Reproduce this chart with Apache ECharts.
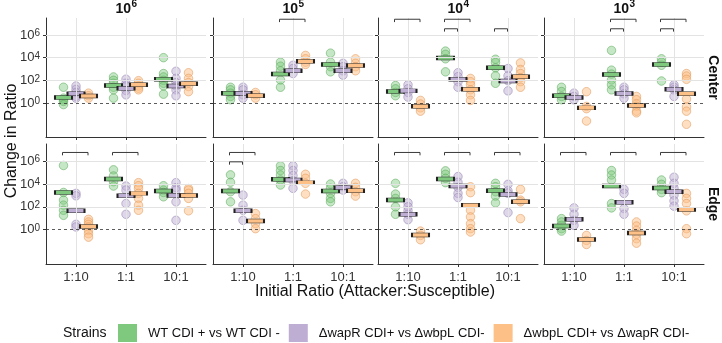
<!DOCTYPE html>
<html>
<head>
<meta charset="utf-8">
<script src="https://cdn.jsdelivr.net/npm/echarts@6.0.0/dist/echarts.min.js"></script>
<style>
html, body { margin: 0; padding: 0; background: #fff; }
#chart { width: 722px; height: 343px; }
</style>
</head>
<body>
<div id="chart"></div>
<script>
var categories = ['1:10', '1:1', '10:1'];
var densityExp = ['6', '5', '4', '3']; // facet columns: 10^6 ... 10^3
var locations = ['Center', 'Edge'];
var strains = ['WT CDI + vs WT CDI -', '\u0394wapR CDI+ vs \u0394wbpL CDI-', '\u0394wbpL CDI+ vs \u0394wapR CDI-'];
var strainColors = ['#7fc97f', '#beaed4', '#fdc086'];
var yTicks = [0, 2, 4, 6];

// values are log10(change in ratio); per strain [WT, wapR, wbpL], each [1:10, 1:1, 10:1]
var centerE6Pts = [
  [[1.39, 0.43, 0.29, 0.14, -0.14], [2.3, 2.0, 1.74, 1.39, 1.16, 0.43], [4.0, 2.6, 2.3, 2.0, 1.74, 1.5, 0.78]],
  [[1.5, 1.2, 0.93, 0.58, 0.43], [2.1, 1.74, 1.5, 1.1, 0.72], [2.8, 2.17, 1.8, 1.5, 1.16, 0.64]],
  [[0.87, 0.64, 0.43], [1.97, 1.74, 1.5, 1.3, 1.16], [2.67, 2.17, 1.8, 1.45, 1.0]]
];
var centerE6Bars = [[0.49, 1.54, 2.1], [0.81, 1.3, 1.5], [0.61, 1.6, 1.7]];

var centerE5Pts = [
  [[1.39, 1.16, 0.87, 0.58, 0.29], [3.6, 3.25, 2.84, 2.03, 1.39], [4.4, 3.6, 3.2, 2.75]],
  [[1.39, 1.16, 0.72, 0.43], [3.33, 3.04, 2.6], [3.5, 3.2, 2.84, 2.46]],
  [[0.93, 0.72, 0.43], [4.2, 3.9, 3.6, 3.4], [3.9, 3.5, 3.2, 2.84]]
];
var centerE5Bars = [[0.87, 2.55, 3.4], [0.87, 2.84, 2.84], [0.64, 3.68, 3.3]];

var centerE4Pts = [
  [[1.54, 1.25, 0.93, 0.64], [4.58, 4.29, 3.9, 2.75], [3.86, 3.57, 3.1, 2.4, 1.74]],
  [[1.6, 1.25, 0.93, 0.52], [2.67, 2.32, 1.88, 1.39], [3.04, 2.4, 1.97, 1.07]],
  [[0.23, -0.09, -0.43, -0.72], [2.17, 1.88, 1.6, 1.16, 0.72, 0.23], [3.54, 2.96, 2.6, 2.23, 1.88, 1.39]]
];
var centerE4Bars = [[1.01, 3.97, 3.1], [1.07, 2.09, 1.94], [-0.29, 1.22, 2.32]];

var centerE3Pts = [
  [[1.39, 1.01, 0.58, 0.29], [4.64, 2.9, 2.55, 2.03, 1.6, 1.16], [3.9, 3.6, 3.33, 1.94]],
  [[0.87, 0.58, 0.29], [1.39, 1.16, 0.81, 0.43], [1.6, 1.39, 1.16, 0.58]],
  [[1.0, -0.3, -0.5, -1.59], [0.58, 0.29, -0.06, -0.29, -0.72, -0.87], [2.6, 2.38, 2.09, 0.35, -0.35, -0.72, -1.88]]
];
var centerE3Bars = [[0.64, 2.52, 3.39], [0.49, 0.84, 1.22], [-0.43, -0.23, 0.81]];

var edgeE6Pts = [
  [[5.62, 3.26, 2.59, 2.15, 1.7, 1.26], [5.24, 4.7, 4.2, 3.82], [3.85, 3.47, 3.26, 2.88]],
  [[3.18, 2.97, 0.47, 0.24], [3.82, 3.47, 2.29, 1.35], [4.12, 3.68, 3.47, 2.44, 0.82]],
  [[0.91, 0.68, 0.47, 0.24, -0.06, -0.35, -0.65], [4.12, 3.85, 3.6, 3.18, 2.74, 2.15, 1.7], [3.6, 3.47, 3.18, 2.74, 1.65]]
];
var edgeE6Bars = [[3.26, 4.44, 3.38], [1.65, 2.97, 3.0], [0.29, 3.18, 3.0]];

var edgeE5Pts = [
  [[4.8, 4.15, 3.32, 2.44], [5.59, 5.18, 4.79, 4.35, 3.91], [4.0, 3.62, 3.18, 2.74, 2.44]],
  [[3.03, 2.15, 1.7, 0.82], [5.59, 5.18, 4.74, 4.29, 3.62], [4.06, 3.76, 3.47]],
  [[1.41, 0.97, 0.53, 0.09], [4.85, 4.5, 4.06, 3.12], [4.06, 3.71, 3.32, 2.94]]
];
var edgeE5Bars = [[3.38, 4.41, 3.38], [1.65, 4.35, 3.68], [0.76, 4.12, 3.41]];

var edgeE4Pts = [
  [[4.06, 3.12, 2.74, 2.0, 1.35], [5.15, 4.85, 4.5, 4.12], [4.06, 3.76, 3.32, 2.94, 2.35]],
  [[2.35, 2.0, 1.65, 1.35, 0.88], [4.65, 4.15, 3.7, 3.18, 2.82], [3.97, 3.41, 3.18, 1.5]],
  [[-0.12, -0.5, -0.88], [3.76, 3.24, 1.7, 1.12, 0.53, 0.09, -0.2], [3.53, 2.59, 2.44, 0.97]]
];
var edgeE4Bars = [[2.59, 4.44, 3.41], [1.35, 3.82, 3.09], [-0.47, 2.15, 2.44]];

var edgeE3Pts = [
  [[0.97, 0.68, 0.38, 0.09, -0.12], [5.18, 4.79, 4.35, 2.29, 1.91], [4.35, 3.97, 3.53, 3.24]],
  [[1.91, 1.35, 0.82, 0.38], [3.53, 3.18, 1.85, 1.35], [4.59, 4.06, 3.62, 3.03, 2.53, 2.06]],
  [[-0.5, -0.94, -1.29], [0.68, 0.32, -0.06, -0.41, -0.79, -1.18], [3.18, 2.74, 2.29, 1.65, 0.09, -0.35]]
];
var edgeE3Bars = [[0.32, 3.82, 3.65], [0.91, 2.41, 3.32], [-0.85, -0.29, 1.76]];

// significance brackets: [column, category, level] (level 1 = WT..wbpL, level 2 = WT..wapR)
var centerBrackets = [[1, 1, 1], [2, 0, 1], [2, 1, 1], [2, 1, 2], [2, 2, 2], [3, 1, 1], [3, 1, 2], [3, 2, 1], [3, 2, 2]];
var edgeBrackets = [[0, 0, 1], [0, 1, 1], [1, 0, 1], [1, 0, 2], [2, 0, 1], [2, 1, 1], [2, 2, 1], [3, 0, 1], [3, 1, 1], [3, 2, 1]];

var panelPts = [[centerE6Pts, centerE5Pts, centerE4Pts, centerE3Pts], [edgeE6Pts, edgeE5Pts, edgeE4Pts, edgeE3Pts]];
var panelBars = [[centerE6Bars, centerE5Bars, centerE4Bars, centerE3Bars], [edgeE6Bars, edgeE5Bars, edgeE4Bars, edgeE3Bars]];
var panelBrackets = [centerBrackets, edgeBrackets];

// layout
var FONT = 'Liberation Sans, Arial, sans-serif';
var colLeft = [46, 213, 378, 544];
var rowTop = [18, 144];
var rowHeight = [119, 120];
var panelW = 160;
var dodge = [-0.25, 0, 0.25];
var bracketY = [[7.39, 6.55], [6.76, 5.94]];
var pointFill = ['rgba(127,201,127,0.45)', 'rgba(190,174,212,0.5)', 'rgba(253,192,134,0.5)'];
var pointLine = ['rgba(95,170,95,0.7)', 'rgba(150,135,180,0.7)', 'rgba(225,155,95,0.7)'];

var grids = [], xAxes = [], yAxes = [], series = [];

for (var r = 0; r < 2; r++) {
  for (var c = 0; c < 4; c++) {
    var idx = r * 4 + c;
    grids.push({ left: colLeft[c], top: rowTop[r], width: panelW, height: rowHeight[r] });
    xAxes.push({
      type: 'value', gridIndex: idx, min: 0.4, max: 3.6,
      axisLine: { show: true, onZero: false, lineStyle: { color: '#333', width: 1 } },
      axisTick: { show: true, length: 3, customValues: [1, 2, 3], lineStyle: { color: '#333' } },
      axisLabel: {
        show: r === 1, customValues: [1, 2, 3], margin: 7,
        fontFamily: FONT, fontSize: 13, color: '#333',
        formatter: function (v) { return categories[Math.round(v) - 1]; }
      },
      splitLine: { show: false }
    });
    yAxes.push({
      type: 'value', gridIndex: idx, min: -3, max: 7.5,
      axisLine: { show: true, onZero: false, lineStyle: { color: '#333', width: 1 } },
      axisTick: { show: true, length: 3, customValues: yTicks, lineStyle: { color: '#333' } },
      axisLabel: {
        show: c === 0, customValues: yTicks, margin: 6,
        fontFamily: FONT, color: '#333',
        formatter: function (v) { return '{b|10}{s|' + v + '}'; },
        rich: {
          b: { fontFamily: FONT, fontSize: 13, lineHeight: 13, verticalAlign: 'bottom', color: '#333' },
          s: { fontFamily: FONT, fontSize: 10, lineHeight: 10, verticalAlign: 'top', padding: [0, 0, 7, 0], color: '#333' }
        }
      },
      splitLine: { show: false }
    });

    // grid lines + dashed reference at 10^0
    var gl = { color: '#e3e3e3', width: 1, type: 'solid' };
    series.push({
      type: 'line', xAxisIndex: idx, yAxisIndex: idx, data: [], silent: true, z: 1,
      markLine: {
        silent: true, symbol: ['none', 'none'], label: { show: false }, animation: false,
        data: [
          { xAxis: 1, lineStyle: gl }, { xAxis: 2, lineStyle: gl }, { xAxis: 3, lineStyle: gl },
          { yAxis: 2, lineStyle: gl }, { yAxis: 4, lineStyle: gl }, { yAxis: 6, lineStyle: gl },
          { yAxis: 0, lineStyle: { color: '#333', width: 0.8, type: [3, 3] } }
        ]
      }
    });

    var pts = panelPts[r][c];
    var bars = panelBars[r][c];
    for (var g = 0; g < 3; g++) {
      var d = [];
      for (var k = 0; k < 3; k++) {
        pts[g][k].forEach(function (v) { d.push([k + 1 + dodge[g], v]); });
      }
      series.push({
        type: 'scatter', name: strains[g], xAxisIndex: idx, yAxisIndex: idx, z: 3,
        symbolSize: 8.5, data: d,
        itemStyle: { color: pointFill[g], borderColor: pointLine[g], borderWidth: 0.8, opacity: 1 }
      });
    }
    for (var g2 = 0; g2 < 3; g2++) {
      series.push({
        type: 'scatter', name: 'mid' + g2, xAxisIndex: idx, yAxisIndex: idx, z: 4,
        symbol: 'rect', symbolSize: [17, 4],
        data: bars[g2].map(function (v, k) { return [k + 1 + dodge[g2], v]; }),
        itemStyle: { color: strainColors[g2], borderColor: '#222', borderWidth: 1, opacity: 1 }
      });
    }
  }
}

// brackets
for (var r2 = 0; r2 < 2; r2++) {
  panelBrackets[r2].forEach(function (b) {
    var idx = r2 * 4 + b[0];
    var x1 = b[1] + 1 - 0.27;
    var x2 = b[2] === 1 ? b[1] + 1 + 0.24 : b[1] + 1 - 0.01;
    var yTop = bracketY[r2][b[2] - 1];
    series.push({
      type: 'line', xAxisIndex: idx, yAxisIndex: idx, z: 5, silent: true,
      showSymbol: false, symbol: 'none',
      lineStyle: { color: '#3a3a3a', width: 1 },
      data: [[x1, yTop - 0.25], [x1, yTop], [x2, yTop], [x2, yTop - 0.25]]
    });
  });
}

var graphics = [];
for (var cc = 0; cc < 4; cc++) {
  var cx = colLeft[cc] + panelW / 2 + 5;
  graphics.push({ type: 'text', x: cx, y: 9, style: { text: '10', font: 'bold 14px ' + FONT, fill: '#111', align: 'right', verticalAlign: 'middle', textAlign: 'right', textVerticalAlign: 'middle' } });
  graphics.push({ type: 'text', x: cx + 0.5, y: 4.5, style: { text: densityExp[cc], font: 'bold 10px ' + FONT, fill: '#111', align: 'left', verticalAlign: 'middle', textAlign: 'left', textVerticalAlign: 'middle' } });
}
for (var rr = 0; rr < 2; rr++) {
  graphics.push({
    type: 'text', x: 713, y: rowTop[rr] + rowHeight[rr] / 2, rotation: -Math.PI / 2,
    style: { text: locations[rr], font: 'bold 14px ' + FONT, fill: '#111', align: 'center', verticalAlign: 'middle', textAlign: 'center', textVerticalAlign: 'middle' }
  });
}
graphics.push({
  type: 'text', x: 12, y: 141, rotation: Math.PI / 2,
  style: { text: 'Change in Ratio', font: '16px ' + FONT, fill: '#111', align: 'center', verticalAlign: 'middle', textAlign: 'center', textVerticalAlign: 'middle' }
});
graphics.push({
  type: 'text', x: 375, y: 292,
  style: { text: 'Initial Ratio (Attacker:Susceptible)', font: '16px ' + FONT, fill: '#111', align: 'center', verticalAlign: 'middle', textAlign: 'center', textVerticalAlign: 'middle' }
});
graphics.push({
  type: 'text', x: 63, y: 333,
  style: { text: 'Strains', font: '14px ' + FONT, fill: '#111', align: 'left', verticalAlign: 'middle', textAlign: 'left', textVerticalAlign: 'middle' }
});

var chart = echarts.init(document.getElementById('chart'));
chart.setOption({
  animation: false,
  backgroundColor: '#fff',
  grid: grids,
  xAxis: xAxes,
  yAxis: yAxes,
  legend: {
    left: 118, top: 324, padding: 0, itemWidth: 19, itemHeight: 18, itemGap: 9,
    selectedMode: false,
    textStyle: { fontFamily: FONT, fontSize: 13, color: '#111', padding: [0, 0, 0, 6] },
    data: strains.map(function (s, i) {
      return { name: s, icon: 'rect', itemStyle: { color: strainColors[i], borderWidth: 0, opacity: 1 } };
    })
  },
  graphic: graphics,
  series: series
});
</script>
</body>
</html>
